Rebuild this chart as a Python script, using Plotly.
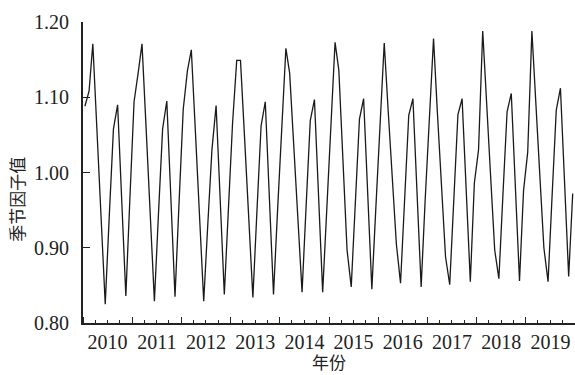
import pandas as pd
import plotly.graph_objects as go

# Monthly seasonal factors (Jan..Dec)
sf_2010 = [1.088, 1.108, 1.171, 1.056, 0.940, 0.825, 0.942, 1.058, 1.090, 0.963, 0.836, 0.965]
sf_2011 = [1.094, 1.133, 1.171, 1.057, 0.943, 0.829, 0.944, 1.058, 1.095, 0.965, 0.835, 0.960]
sf_2012 = [1.084, 1.135, 1.163, 1.052, 0.940, 0.829, 0.930, 1.030, 1.089, 0.964, 0.838, 0.950]
sf_2013 = [1.065, 1.149, 1.149, 1.044, 0.939, 0.834, 0.948, 1.062, 1.094, 0.966, 0.838, 0.949]
sf_2014 = [1.063, 1.165, 1.132, 1.035, 0.938, 0.841, 0.955, 1.069, 1.097, 0.969, 0.841, 0.949]
sf_2015 = [1.059, 1.173, 1.136, 1.016, 0.897, 0.848, 0.960, 1.071, 1.098, 0.972, 0.845, 0.954]
sf_2016 = [1.063, 1.172, 1.083, 0.994, 0.905, 0.853, 0.965, 1.076, 1.098, 0.973, 0.848, 0.964]
sf_2017 = [1.073, 1.178, 1.081, 0.985, 0.888, 0.851, 0.964, 1.077, 1.098, 0.977, 0.855, 0.986]
sf_2018 = [1.030, 1.188, 1.088, 0.994, 0.897, 0.859, 0.970, 1.081, 1.105, 0.981, 0.856, 0.976]
sf_2019 = [1.027, 1.188, 1.090, 0.996, 0.900, 0.855, 0.969, 1.083, 1.112, 0.987, 0.862, 0.972]

years = [2010, 2011, 2012, 2013, 2014, 2015, 2016, 2017, 2018, 2019]
y_ticks = [0.80, 0.90, 1.00, 1.10, 1.20]
x_title = "年份"
y_title = "季节因子值"

values = (sf_2010 + sf_2011 + sf_2012 + sf_2013 + sf_2014 +
          sf_2015 + sf_2016 + sf_2017 + sf_2018 + sf_2019)
dates = [f"{y}-{m:02d}-15" for y in years for m in range(1, 13)]

num_font = "Liberation Serif, Noto Sans CJK SC, serif"
cjk_font = "Noto Sans CJK SC"
ink = "#222222"

fig = go.Figure()
fig.add_trace(go.Scatter(
    x=dates, y=values, mode="lines",
    line=dict(color="#1a1a1a", width=1.3),
    showlegend=False, hoverinfo="skip",
))

fig.update_layout(
    width=575, height=375,
    margin=dict(l=83, r=0, t=22, b=52, autoexpand=False),
    paper_bgcolor="white", plot_bgcolor="white",
    font=dict(family=num_font, color=ink, size=20),
)

fig.update_xaxes(
    type="date", automargin=False,
    range=[f"{years[0]}-01-01", f"{years[-1] + 1}-01-01"],
    tick0=f"{years[0]}-01-01", dtick="M12",
    tickformat="%Y", ticklabelmode="period",
    ticks="inside", ticklen=6, tickwidth=1, tickcolor=ink,
    minor=dict(dtick="M3", ticks="inside", ticklen=3, tickwidth=1, tickcolor=ink),
    showline=True, linecolor=ink, linewidth=2,
    showgrid=False, zeroline=False,
    tickfont=dict(size=20, family=num_font),
    ticklabelstandoff=0,
)

fig.update_yaxes(
    automargin=False,
    range=[0.80, 1.20],
    tickvals=y_ticks, ticktext=[f"{v:.2f}" for v in y_ticks],
    ticks="inside", ticklen=7, tickwidth=1, tickcolor=ink,
    showline=True, linecolor=ink, linewidth=2,
    showgrid=False, zeroline=False,
    tickfont=dict(size=20, family=num_font),
    ticklabelstandoff=8,
)

fig.add_annotation(
    text=x_title, xref="paper", yref="paper", x=0.5, y=-0.128,
    xanchor="center", yanchor="middle", showarrow=False,
    font=dict(size=17, family=cjk_font, color=ink),
)
fig.add_annotation(
    text=y_title, xref="paper", yref="paper", x=-0.134, y=0.41,
    xanchor="center", yanchor="middle", textangle=-90, showarrow=False,
    font=dict(size=17, family=cjk_font, color=ink),
)

fig.write_html("out.html", config={"displayModeBar": False},
               post_script="document.body.style.margin='0';")
